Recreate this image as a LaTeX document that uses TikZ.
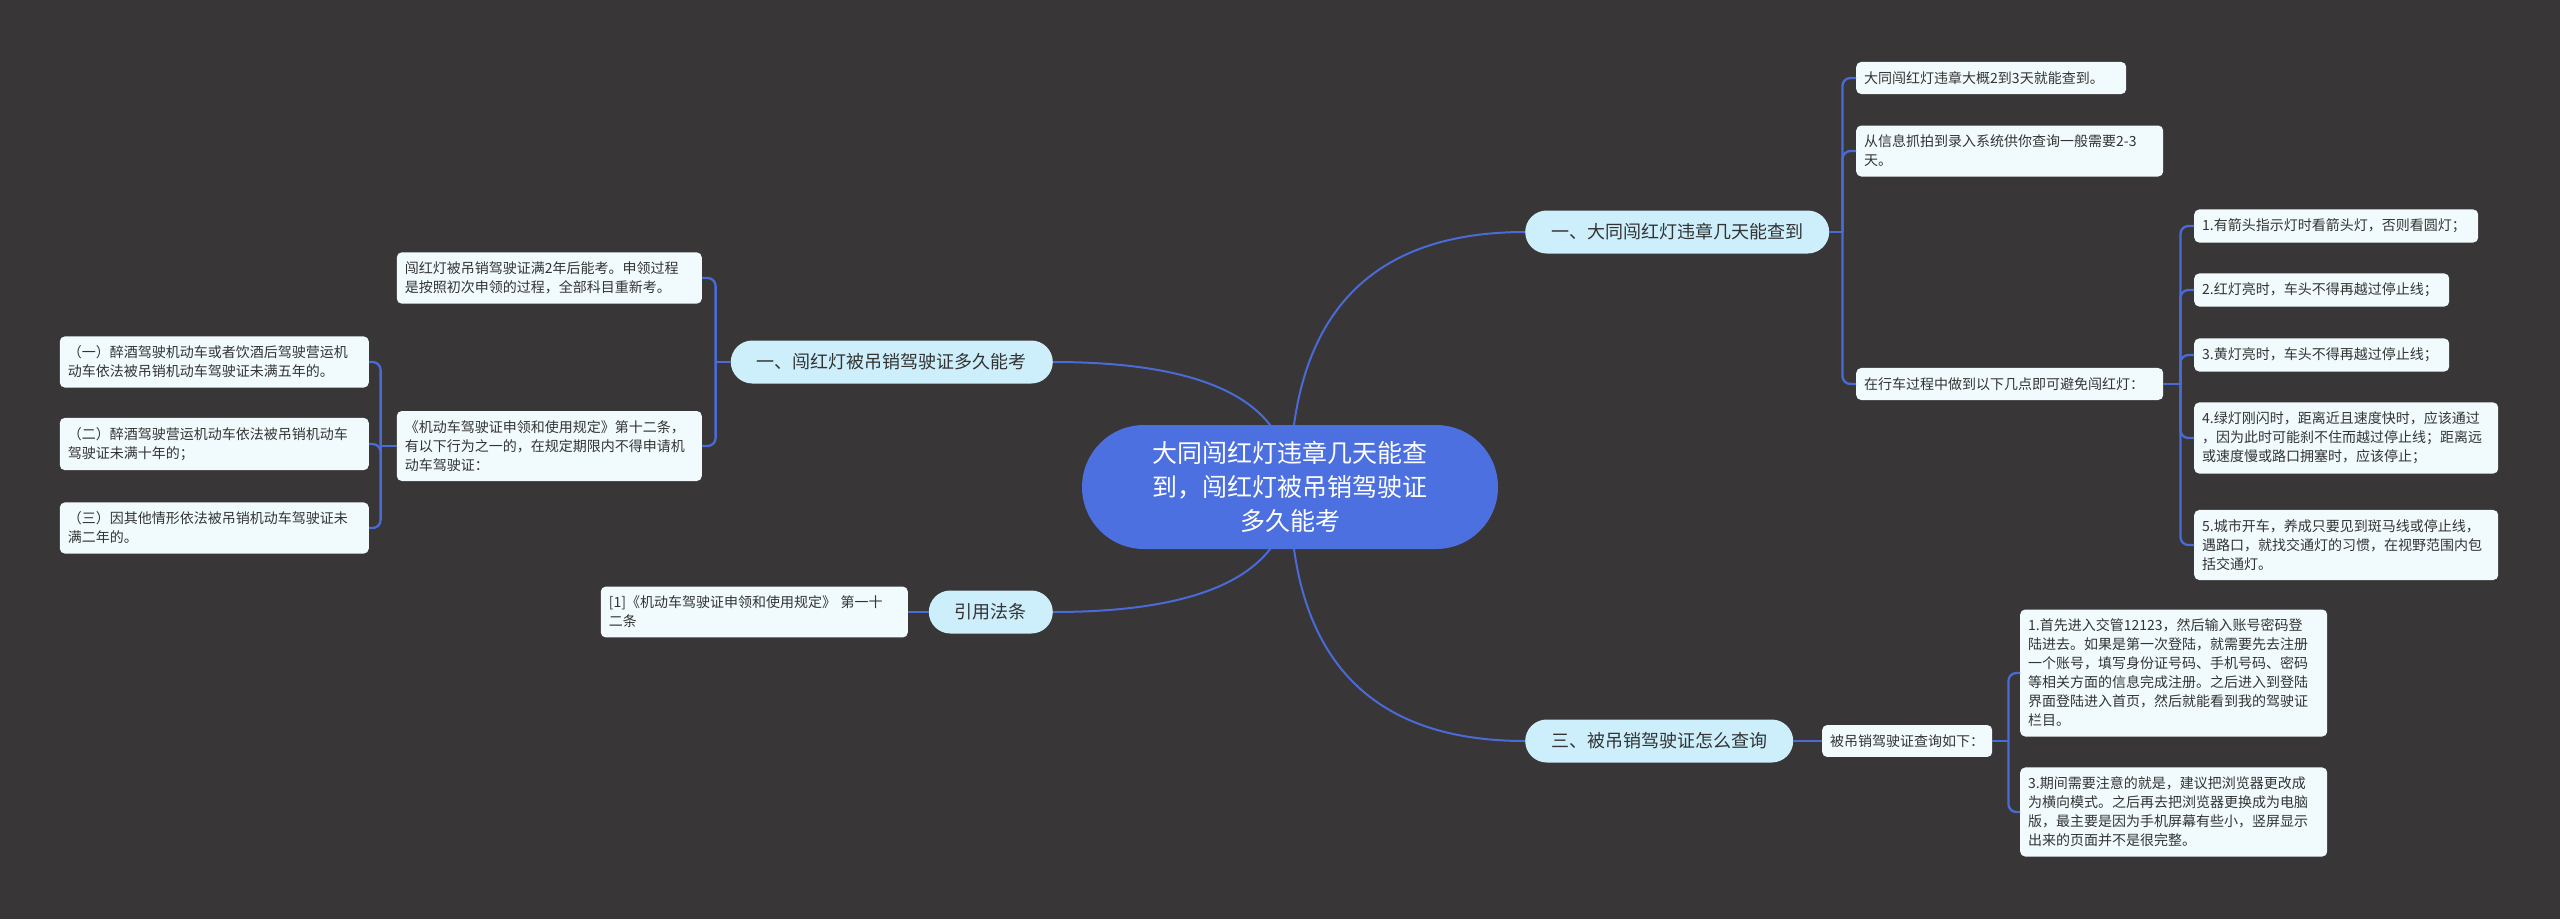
\documentclass[tikz,border=0pt]{standalone}
\usepackage{fontspec}
\setmainfont{Noto Sans CJK SC}
\usepackage{tikz}
\usetikzlibrary{backgrounds,calc}
\definecolor{BgDark}{HTML}{383637}
\definecolor{HubBlue}{HTML}{4C70DF}
\definecolor{LinkBlue}{HTML}{4A6BD6}
\definecolor{TopicFill}{HTML}{CDEEFB}
\definecolor{NoteFill}{HTML}{F1FBFE}
\definecolor{InkGray}{HTML}{333333}

\begin{document}
\begin{tikzpicture}[
    x=1pt, y=-1pt,
    hub/.style={
        fill=HubBlue,
        text=white,
        rounded corners=62pt,
        minimum width=416pt,
        minimum height=124pt,
        align=center,
        font=\fontsize{25}{34}\selectfont
    },
    topic/.style={
        fill=TopicFill,
        text=InkGray,
        rounded corners=21.5pt,
        minimum height=43pt,
        inner xsep=26pt,
        font=\fontsize{18}{22}\selectfont
    },
    note/.style={
        fill=NoteFill,
        text=InkGray,
        rounded corners=5pt,
        inner xsep=8pt,
        inner ysep=9.5pt,
        align=left,
        text width=291pt,
        font=\fontsize{14}{19}\selectfont
    },
    bough/.style={
        draw=LinkBlue,
        line width=2pt,
        to path={.. controls ($(\tikztostart)!0.667!(\tikztostart |- \tikztotarget)$)
            and ($(\tikztotarget)!0.667!(\tikztostart |- \tikztotarget)$) .. (\tikztotarget)}
    },
    twig/.style={
        draw=LinkBlue,
        line width=2.3pt,
        rounded corners=8pt
    }
]
\useasboundingbox (0,0) rectangle (2560,919);

\node[hub] (main) at (1290,487) {大同闯红灯违章几天能查\\到，闯红灯被吊销驾驶证\\多久能考};

% right side
\node[topic, anchor=west] (check) at (1525,232) {一、大同闯红灯违章几天能查到};
\node[topic, anchor=west] (query) at (1525,741) {三、被吊销驾驶证怎么查询};

\node[note, anchor=west, text width=254pt] (days) at (1856,78) {大同闯红灯违章大概2到3天就能查到。};
\node[note, anchor=west] (capture) at (1856,151) {从信息抓拍到录入系统供你查询一般需要2-3\\天。};
\node[note, anchor=west] (avoid) at (1856,384) {在行车过程中做到以下几点即可避免闯红灯：};

\node[note, anchor=west, text width=268pt] (arrow) at (2194,226) {1.有箭头指示灯时看箭头灯，否则看圆灯；};
\node[note, anchor=west, text width=239pt] (red) at (2194,290) {2.红灯亮时，车头不得再越过停止线；};
\node[note, anchor=west, text width=239pt] (yellow) at (2194,355) {3.黄灯亮时，车头不得再越过停止线；};
\node[note, anchor=west, text width=288pt] (green) at (2194,438) {4.绿灯刚闪时，距离近且速度快时，应该通过\\，因为此时可能刹不住而越过停止线；距离远\\或速度慢或路口拥塞时，应该停止；};
\node[note, anchor=west, text width=288pt] (city) at (2194,545) {5.城市开车，养成只要见到斑马线或停止线，\\遇路口，就找交通灯的习惯，在视野范围内包\\括交通灯。};

\node[note, anchor=west, text width=154pt] (howto) at (1822,741) {被吊销驾驶证查询如下：};
\node[note, anchor=west] (login) at (2020,673) {1.首先进入交管12123，然后输入账号密码登\\陆进去。如果是第一次登陆，就需要先去注册\\一个账号，填写身份证号码、手机号码、密码\\等相关方面的信息完成注册。之后进入到登陆\\界面登陆进入首页，然后就能看到我的驾驶证\\栏目。};
\node[note, anchor=west] (browser) at (2020,812) {3.期间需要注意的就是，建议把浏览器更改成\\为横向模式。之后再去把浏览器更换成为电脑\\版，最主要是因为手机屏幕有些小，竖屏显示\\出来的页面并不是很完整。};

% left side
\node[topic, anchor=east] (retake) at (1053,362) {一、闯红灯被吊销驾驶证多久能考};
\node[topic, anchor=east] (cite) at (1053,612) {引用法条};

\node[note, anchor=east, text width=289pt] (twoyear) at (702,278) {闯红灯被吊销驾驶证满2年后能考。申领过程\\是按照初次申领的过程，全部科目重新考。};
\node[note, anchor=east, text width=289pt] (rule) at (702,446) {《机动车驾驶证申领和使用规定》第十二条，\\有以下行为之一的，在规定期限内不得申请机\\动车驾驶证：};

\node[note, anchor=east, text width=293pt] (drunk) at (369,362) {（一）醉酒驾驶机动车或者饮酒后驾驶营运机\\动车依法被吊销机动车驾驶证未满五年的。};
\node[note, anchor=east, text width=293pt] (drunkop) at (369,444) {（二）醉酒驾驶营运机动车依法被吊销机动车\\驾驶证未满十年的；};
\node[note, anchor=east, text width=293pt] (other) at (369,528) {（三）因其他情形依法被吊销机动车驾驶证未\\满二年的。};

\node[note, anchor=east] (law) at (908,612) {[1]《机动车驾驶证申领和使用规定》 第一十\\二条};

% boughs from the centre
\begin{pgfonlayer}{background}
\fill[BgDark] (0,0) rectangle (2560,919);
\draw[bough] (main.center) to (check.west);
\draw[bough] (main.center) to (query.west);
\draw[bough] (main.center) to (retake.east);
\draw[bough] (main.center) to (cite.east);
\end{pgfonlayer}

% twigs
\draw[twig] (check.east) -- ++(13,0);
\foreach \leaf in {days,capture,avoid}
    \draw[twig] (check.east) ++(13,0) |- (\leaf.west);

\draw[twig] (avoid.east) -- ++(17,0);
\foreach \leaf in {arrow,red,yellow,green,city}
    \draw[twig] (avoid.east) ++(17,0) |- (\leaf.west);

\draw[twig] (query.east) -- (howto.west);
\draw[twig] (howto.east) -- ++(16,0);
\foreach \leaf in {login,browser}
    \draw[twig] (howto.east) ++(16,0) |- (\leaf.west);

\draw[twig] (retake.west) -- ++(-15,0);
\foreach \leaf in {twoyear,rule}
    \draw[twig] (retake.west) ++(-15,0) |- (\leaf.east);

\draw[twig] (rule.west) -- ++(-16,0);
\foreach \leaf in {drunk,drunkop,other}
    \draw[twig] (rule.west) ++(-16,0) |- (\leaf.east);

\draw[twig] (cite.west) -- (law.east);

\end{tikzpicture}
\end{document}
